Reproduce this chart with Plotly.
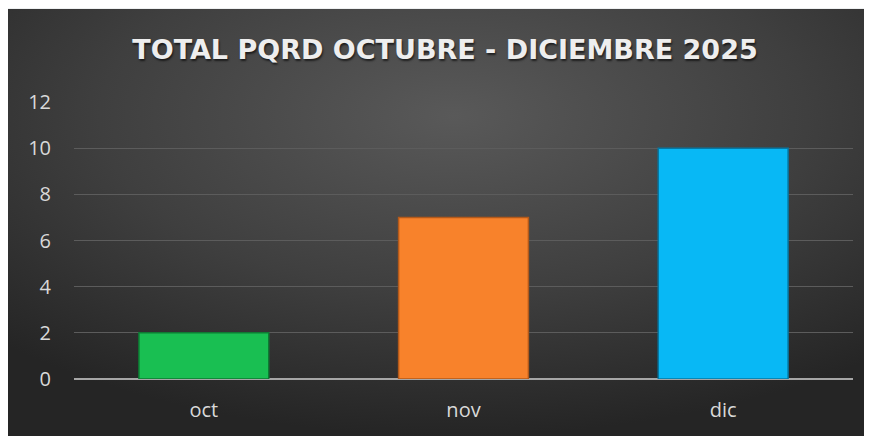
import base64
import plotly.graph_objects as go

categories = ["oct", "nov", "dic"]
values = [2, 7, 10]
bar_colors = ["#19BF52", "#F8822B", "#08B8F5"]
edge_colors = ["#0E7A33", "#B3591A", "#0578A3"]
y_ticks = [0, 2, 4, 6, 8, 10, 12]
title_text = "TOTAL PQRD OCTUBRE - DICIEMBRE 2025"

# page has an 8px body margin, so the figure is drawn at (8, 8)
W, H = 864, 428
L, R, T, B = 66, 19, 94, 57

svg = """<svg xmlns='http://www.w3.org/2000/svg' width='860' height='427' viewBox='0 0 860 427' preserveAspectRatio='none'>
<defs><radialGradient id='g' cx='52%' cy='25%' r='75%' gradientUnits='objectBoundingBox'>
<stop offset='0' stop-color='#595959'/><stop offset='0.55' stop-color='#3f3f3f'/><stop offset='1' stop-color='#252525'/>
</radialGradient></defs><rect width='860' height='427' fill='url(#g)'/></svg>"""
bg_uri = "data:image/svg+xml;base64," + base64.b64encode(svg.encode()).decode()

pw = W - L - R
ph = H - T - B
x0 = (0 - L) / pw
x1 = (857 - L) / pw
ytop = (H - B - 1) / ph
ybot = (H - B - H) / ph

fig = go.Figure(
    go.Bar(
        x=categories,
        y=values,
        width=0.5,
        marker=dict(color=bar_colors, line=dict(color=edge_colors, width=1.5)),
        hoverinfo="x+y",
    )
)

fig.update_layout(
    width=W,
    height=H,
    margin=dict(l=L, r=R, t=T, b=B),
    paper_bgcolor="#eef0f1",
    plot_bgcolor="rgba(0,0,0,0)",
    showlegend=False,
    title=dict(
        text="<b>" + title_text + "</b>",
        x=(445 - 8 - L) / pw,
        xanchor="center",
        xref="paper",
        y=1 - 42 / H,
        yanchor="middle",
        font=dict(family="DejaVu Sans", size=27, color="#eeeeee",
                  shadow="1px 2px 2px rgba(0,0,0,0.6)"),
    ),
    images=[dict(
        source=bg_uri, xref="paper", yref="paper",
        x=x0, y=ytop, sizex=x1 - x0, sizey=ytop - ybot,
        xanchor="left", yanchor="top", sizing="stretch", layer="below",
    )],
    xaxis=dict(
        showgrid=False,
        showline=False,
        ticks="",
        tickfont=dict(family="Open Sans", size=20, color="#d9d9d9"),
        ticklabelstandoff=17,
    ),
    yaxis=dict(
        range=[0, 12],
        tickvals=y_ticks,
        ticktext=[str(v) for v in y_ticks],
        showgrid=True,
        gridcolor="#5c5c5c",
        gridwidth=1,
        zeroline=True,
        zerolinecolor="#a6a6a6",
        zerolinewidth=2,
        showline=False,
        ticks="",
        tickfont=dict(family="Open Sans", size=20, color="#d9d9d9"),
        ticklabelstandoff=22,
    ),
)

fig.write_html("out.html")
